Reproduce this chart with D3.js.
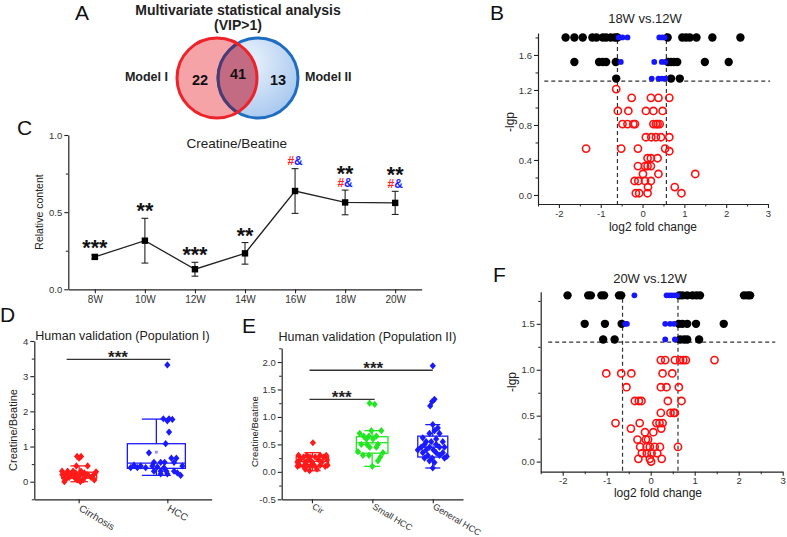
<!DOCTYPE html>
<html><head><meta charset="utf-8">
<script src="https://cdn.jsdelivr.net/npm/d3@7"></script>
<style>body{margin:0;background:#fff} svg{display:block}</style>
</head><body><svg id="c" width="787" height="537"></svg>
<script>
// ---------------- DATA ----------------
const vennNames = ["Model I", "Model II"];
const vennCounts = [22, 41, 13]; // only I, shared, only II

const weeks = ["8W","10W","12W","14W","16W","18W","20W"];
const creatineMean = [0.21, 0.315, 0.13, 0.233, 0.637, 0.563, 0.56];
const creatineErr  = [0.012, 0.145, 0.045, 0.07, 0.145, 0.08, 0.075];
const weekStars = ["***","**","***","**","","**","**"];
const weekHash  = [false,false,false,false,true,true,true];

// volcano rows: [ -lgp, [log2 fold change ...] ]
const bBlack = [
  [1.8,  [-1.84,-1.63,-1.43,-1.2,-1.1,-0.95,-0.87,-0.76,-0.66,-0.6,0.60,0.95,1.04,1.13,1.29,1.67,2.34]],
  [1.52, [-1.63,-1.04,-0.95,-0.87,-0.64,0.61,0.68,0.75,0.83,1.49,2.06]],
  [1.33, [-0.63,0.68,0.89]]
];
const bBlue = [
  [1.8,  [-0.57,-0.48,-0.36,0.40,0.47,0.53]],
  [1.52, [-0.52,0.28,0.46,0.54]],
  [1.33, [0.22,0.38,0.46,0.54]]
];
const bRed = [
  [1.21, [-0.63]],
  [1.11, [-0.26,0.20,0.38,0.64]],
  [0.96, [-0.59,-0.34,0.08,0.26,0.48]],
  [0.81, [-0.48,-0.36,-0.22,-0.18,0.26,0.32,0.36,0.41]],
  [0.66, [0.08,0.21,0.32,0.44,0.64]],
  [0.53, [-1.35,-0.51,-0.11,0.54]],
  [0.50, [0.64]],
  [0.42, [0.12,0.20,0.36]],
  [0.33, [-0.11,0.06,0.12,0.20]],
  [0.24, [0.01,0.38,1.26]],
  [0.16, [-0.19,-0.10,0.06,0.20]],
  [0.09, [0.13,0.77]],
  [0.02, [-0.16,-0.08,0.12,0.93]]
];
const fBlack = [
  [1.81, [-1.89,-1.42,-1.36,-1.12,-1.06,-0.72,-0.67,0.65,0.72,0.83,0.95,1.04,1.12,2.12,2.2,2.26]],
  [1.50, [-1.5,-1.04,-0.66,0.64,0.72,0.83,1.03,1.66]],
  [1.33, [-1.08,-0.82,0.67,0.76,0.83,1.10]]
];
const fBlue = [
  [1.81, [-0.37,0.36,0.42,0.48,0.54,0.6]],
  [1.50, [-0.58,-0.54,0.33,0.44,0.53]],
  [1.33, [0.33,0.55]]
];
const fRed = [
  [1.105,[0.23,0.33,0.55,0.67,0.74,0.80,1.45]],
  [0.96, [-1.01,-0.67,-0.44,0.27,0.49]],
  [0.81, [-0.55,0.23,0.36,0.64]],
  [0.66, [-0.36,-0.27,-0.21,0.39,0.70]],
  [0.53, [0.23,0.45,0.52,0.55]],
  [0.42, [-0.80,-0.25,0.13,0.20,0.27]],
  [0.36, [-0.45,0.24]],
  [0.32, [-0.13,0.06]],
  [0.24, [-0.30,-0.11,-0.06]],
  [0.16, [-0.24,-0.09,-0.02,0.09,0.21,0.62]],
  [0.09, [-0.2,-0.09,0.02,0.15]],
  [0.03, [-0.28,-0.02,0.25]],
  [0.0,  [0.01]]
];
const bThresh = [-0.6, 0.57, 1.30];
const fThresh = [-0.64, 0.62, 1.30];
const volcXTicks = [-2,-1,0,1,2,3];
const bYTicks = [0.0,0.4,0.8,1.2,1.6];
const fYTicks = [0.0,0.5,1.0,1.5];

// population I : [value, jitter (px offset)]
const popIGroups = ["Cirrhosis","HCC"];
const popICir = [[0.72,-1.6],[0.72,2.4],[0.67,0.4],[0.45,-2.3],[0.45,9],[0.3,-16.6],[0.3,-11],[0.3,-5.6],[0.3,2.4],[0.28,17.4],
  [0.25,-11.6],[0.25,-3],[0.25,5.7],[0.2,-16.3],[0.2,-13],[0.2,-7.6],[0.2,1.7],[0.2,9],[0.2,15],[0.12,-15],[0.12,-9.6],
  [0.12,-4.3],[0.12,-1],[0.12,5.7],[0.12,12.4],[0.05,-13.3],[0.05,-1.6],[0.05,4.4],[0.05,15.7],[0.0,-14.3],[0.0,1.7]];
const popIHCC = [[3.32,0],[1.79,-4],[1.79,1.7],[1.77,5],[1.73,0],[1.41,1.7],[1.08,-1.7],[0.82,-18.4],[0.67,4],[0.67,9],
  [0.55,-13.4],[0.55,-6.7],[0.55,-2.7],[0.55,6.7],[0.47,-33.4],[0.45,-26.7],[0.45,-15],[0.45,15],[0.4,-36.7],[0.4,-30],
  [0.4,-21.7],[0.42,-10],[0.4,-3.4],[0.3,-13.4],[0.3,-6.7],[0.3,-1],[0.3,6.7],[0.22,-6.7],[0.22,0],[0.25,10],[0.18,13.3]];
// box stats: [min, q1, median, q3, max, mean]
const popIBox = [[0.0,0.1,0.18,0.27,0.45,0.22],[0.18,0.38,0.53,1.08,1.78,0.84]];
const popIYTicks = [0,1,2,3,4];

const popIIGroups = ["Cir","Small HCC","General HCC"];
const popIICir = [[0.53,1],[0.3,-13.4],[0.3,-5],[0.3,8.3],[0.3,14.3],[0.27,-8.4],[0.27,-1.7],[0.27,3.3],[0.27,11.7],
  [0.22,-11.7],[0.22,-3.4],[0.22,6.6],[0.22,15],[0.18,-14.4],[0.18,-6.7],[0.18,0],[0.18,10],[0.12,-12.4],[0.12,-5],
  [0.12,2.3],[0.12,8.3],[0.12,15.6],[0.1,-14.4],[0.1,-8.4],[0.1,-1.7],[0.1,13.3],[0.05,-6.7],[0.05,5],[0.02,-2.4]];
const popIISmall = [[1.25,-2.7],[1.23,2.3],[0.75,-1],[0.75,9],[0.7,-12.7],[0.65,-8.7],[0.65,-3.4],[0.65,4],[0.6,-6],[0.6,0.6],
  [0.5,-11],[0.5,-5.4],[0.5,5.6],[0.45,-2.7],[0.45,4],[0.37,-14.4],[0.35,10.6],[0.3,-9.4],[0.3,-3.4],[0.27,8],[0.2,5.6],[0.1,0]];
const popIIGen = [[1.93,0],[1.32,1.7],[1.28,-0.6],[1.2,-2.6],[0.86,0],[0.8,5],[0.75,1.7],[0.7,-3.3],[0.7,6.7],[0.62,-10],
  [0.6,3.4],[0.55,-6.6],[0.55,-1.6],[0.55,10],[0.5,-8.3],[0.5,3.4],[0.45,-11.6],[0.45,-3.3],[0.45,6.7],[0.45,11.7],[0.4,-15],
  [0.4,-6.6],[0.4,0.7],[0.35,-10],[0.35,3.4],[0.35,10],[0.3,-5],[0.3,6.7],[0.28,14],[0.25,-8.3],[0.25,-0.6],[0.25,11.7],
  [0.2,-3.3],[0.17,1.7],[0.07,0]];
const popIIBox = [[0.02,0.1,0.19,0.28,0.35,0.19],[0.1,0.34,0.53,0.64,0.75,0.52],[0.07,0.27,0.45,0.65,0.86,0.5]];
const popIIYTicks = [-0.5,0.0,0.5,1.0,1.5,2.0];

// ---------------- DRAW ----------------
const FONT = '"Liberation Sans", Arial, Helvetica, sans-serif';
const svg = d3.select("#c").style("font-family", FONT);
const defs = svg.append("defs");

function txt(g, x, y, s, size, opts = {}) {
  const t = g.append("text").attr("x", x).attr("y", y).text(s)
    .style("font-size", size + "px").style("font-family", FONT)
    .attr("fill", opts.fill || "#222")
    .attr("text-anchor", opts.anchor || "middle");
  if (opts.bold) t.style("font-weight", "bold");
  if (opts.rotate) t.attr("transform", `rotate(${opts.rotate},${x},${y})`);
  return t;
}
const numFmt = d => (d < 0 ? "-" : "") + Math.abs(d);
const dec1 = d => (d < 0 ? "-" : "") + d3.format(".1f")(Math.abs(d));

function styleAxis(g, fs) {
  g.select(".domain").attr("stroke", "#222").attr("stroke-width", 1.2);
  g.selectAll(".tick line").attr("stroke", "#222").attr("stroke-width", 1.1);
  g.selectAll(".tick text").attr("fill", "#333").style("font-size", fs + "px").style("font-family", FONT);
}
function minorAxis(parent, axisFn, scale, vals, tx, ty) {
  const g = parent.append("g").attr("transform", `translate(${tx},${ty})`)
    .call(axisFn(scale).tickValues(vals).tickSize(2.5).tickFormat(""));
  g.select(".domain").remove();
  g.selectAll(".tick line").attr("stroke", "#222").attr("stroke-width", 1);
}

// Panel letters
[["A",75,20],["B",490,20],["C",17,135],["D",0,322],["E",242,333],["F",493,282]].forEach(([s,x,y]) =>
  txt(svg, x, y, s, 21, {anchor: "start", fill: "#111"}));

// ---- Panel A : Venn ----
(function() {
  const g = svg.append("g");
  const R = 40, cR = [217, 78], cB = [258, 78];
  const grad = defs.append("radialGradient").attr("id", "bg").attr("cx", "35%").attr("cy", "30%").attr("r", "75%");
  grad.append("stop").attr("offset", "0").attr("stop-color", "#eef5fd");
  grad.append("stop").attr("offset", "1").attr("stop-color", "#a8c8ef");
  defs.append("clipPath").attr("id", "clipR").append("circle").attr("cx", cR[0]).attr("cy", cR[1]).attr("r", R);
  g.append("circle").attr("cx", cR[0]).attr("cy", cR[1]).attr("r", R).attr("fill", "#f6a3a8");
  g.append("circle").attr("cx", cB[0]).attr("cy", cB[1]).attr("r", R).attr("fill", "url(#bg)");
  g.append("circle").attr("cx", cB[0]).attr("cy", cB[1]).attr("r", R).attr("fill", "#c46b84").attr("clip-path", "url(#clipR)");
  g.append("circle").attr("cx", cB[0]).attr("cy", cB[1]).attr("r", R).attr("fill", "none").attr("stroke", "#1f6dc2").attr("stroke-width", 3);
  g.append("circle").attr("cx", cB[0]).attr("cy", cB[1]).attr("r", R).attr("fill", "none").attr("stroke", "#4e3a6e").attr("stroke-width", 3).attr("clip-path", "url(#clipR)");
  g.append("circle").attr("cx", cR[0]).attr("cy", cR[1]).attr("r", R).attr("fill", "none").attr("stroke", "#ee2229").attr("stroke-width", 3);
  txt(g, 238, 15, "Multivariate statistical analysis", 14, {bold: true});
  txt(g, 238, 30, "(VIP>1)", 14, {bold: true});
  txt(g, 168, 81, vennNames[0], 12.5, {bold: true, anchor: "end"});
  txt(g, 305, 81, vennNames[1], 12.5, {bold: true, anchor: "start"});
  txt(g, 200, 85, vennCounts[0], 14.5, {bold: true, fill: "#111"});
  txt(g, 238, 79, vennCounts[1], 14.5, {bold: true, fill: "#111"});
  txt(g, 278, 84.5, vennCounts[2], 14.5, {bold: true, fill: "#111"});
})();

// ---- Volcano panels ----
function volcano(cfg) {
  const g = svg.append("g");
  const x = d3.scaleLinear().domain([-2.5, 3]).range([cfg.x0, cfg.x1]);
  const y = d3.scaleLinear().domain(cfg.yDom).range([cfg.yb, cfg.yt]);
  const gx = g.append("g").attr("transform", `translate(0,${cfg.yb})`)
    .call(d3.axisBottom(x).tickValues(volcXTicks).tickFormat(numFmt).tickSize(4).tickSizeOuter(0).tickPadding(2));
  styleAxis(gx, 9.5);
  minorAxis(g, d3.axisBottom, x, [-2.5,-1.5,-0.5,0.5,1.5,2.5], 0, cfg.yb);
  const gy = g.append("g").attr("transform", `translate(${cfg.x0},0)`)
    .call(d3.axisLeft(y).tickValues(cfg.yTicks).tickFormat(dec1).tickSize(4).tickSizeOuter(0).tickPadding(2));
  styleAxis(gy, 9.5);
  minorAxis(g, d3.axisLeft, y, cfg.yMinor, cfg.x0, 0);
  // thresholds
  const dash = "4,3";
  g.append("line").attr("x1", x(cfg.hx[0])).attr("x2", x(cfg.hx[1])).attr("y1", y(cfg.th[2])).attr("y2", y(cfg.th[2]))
    .attr("stroke", "#333").attr("stroke-width", 1.2).attr("stroke-dasharray", dash);
  [cfg.th[0], cfg.th[1]].forEach(v => g.append("line").attr("x1", x(v)).attr("x2", x(v))
    .attr("y1", cfg.yt).attr("y2", cfg.yb).attr("stroke", "#333").attr("stroke-width", 1.2).attr("stroke-dasharray", dash));
  const flat = rows => rows.flatMap(([p, xs]) => xs.map(v => [v, p]));
  g.append("g").selectAll("circle").data(flat(cfg.red)).join("circle")
    .attr("cx", d => x(d[0])).attr("cy", d => y(d[1])).attr("r", 3.6)
    .attr("fill", "none").attr("stroke", "#ff1010").attr("stroke-width", 1.6);
  g.append("g").selectAll("circle").data(flat(cfg.black)).join("circle")
    .attr("cx", d => x(d[0])).attr("cy", d => y(d[1])).attr("r", 4.2).attr("fill", "#000");
  g.append("g").selectAll("circle").data(flat(cfg.blue)).join("circle")
    .attr("cx", d => x(d[0])).attr("cy", d => y(d[1])).attr("r", 2.9).attr("fill", "#1515ff");
  txt(g, cfg.titleX, cfg.titleY, cfg.title, 13, {fill: "#222"});
  txt(g, cfg.xlX, cfg.xlY, "log2 fold change", 12, {fill: "#222"});
  txt(g, cfg.ylX, cfg.ylY, "-lgp", 12, {fill: "#222", rotate: -90});
}
volcano({x0: 538, x1: 768, yb: 204, yt: 33, yDom: [-0.103, 1.851], yTicks: bYTicks,
  yMinor: [0.2,0.6,1.0,1.4,1.8], th: bThresh, hx: [-2.35, 3.05],
  black: bBlack, blue: bBlue, red: bRed, title: "18W vs.12W", titleX: 645, titleY: 23,
  xlX: 653, xlY: 231, ylX: 514, ylY: 122});
volcano({x0: 540.7, x1: 782.7, yb: 471.7, yt: 291.7, yDom: [-0.11, 1.85], yTicks: fYTicks,
  yMinor: [0.25,0.75,1.25,1.75], th: fThresh, hx: [-2.33, 2.83],
  black: fBlack, blue: fBlue, red: fRed, title: "20W vs.12W", titleX: 650, titleY: 283,
  xlX: 658, xlY: 497, ylX: 516, ylY: 382});

// ---- Panel C ----
(function() {
  const g = svg.append("g");
  const x = d3.scalePoint().domain(weeks).range([68.3, 421.7]).padding(0.53);
  const y = d3.scaleLinear().domain([0, 1]).range([289.3, 135]);
  const gx = g.append("g").attr("transform", "translate(0,289.3)")
    .call(d3.axisBottom(x).tickSize(4).tickSizeOuter(0).tickPadding(3));
  styleAxis(gx, 10);
  const gy = g.append("g").attr("transform", "translate(68.3,0)")
    .call(d3.axisLeft(y).tickValues([0, 0.5, 1]).tickFormat(dec1).tickSize(4).tickSizeOuter(0).tickPadding(2));
  styleAxis(gy, 9.5);
  minorAxis(g, d3.axisLeft, y, [0.25, 0.75], 68.3, 0);
  const data = weeks.map((w, i) => ({w, m: creatineMean[i], e: creatineErr[i], s: weekStars[i], h: weekHash[i]}));
  // error bars
  data.forEach(d => {
    const cx = x(d.w), t = y(d.m + d.e), b = y(d.m - d.e);
    g.append("line").attr("x1", cx).attr("x2", cx).attr("y1", t).attr("y2", b).attr("stroke", "#222").attr("stroke-width", 1.1);
    [t, b].forEach(yy => g.append("line").attr("x1", cx - 3.4).attr("x2", cx + 3.4).attr("y1", yy).attr("y2", yy).attr("stroke", "#222").attr("stroke-width", 1.1));
  });
  g.append("path").datum(data).attr("d", d3.line().x(d => x(d.w)).y(d => y(d.m)))
    .attr("fill", "none").attr("stroke", "#222").attr("stroke-width", 1.3);
  g.selectAll("rect.pt").data(data).join("rect").attr("class", "pt")
    .attr("x", d => x(d.w) - 3.2).attr("y", d => y(d.m) - 3.2).attr("width", 6.4).attr("height", 6.4).attr("fill", "#000");
  data.forEach(d => {
    const top = y(d.m + d.e);
    if (d.h) {
      const t = g.append("text").attr("x", x(d.w)).attr("y", top - 3.2).attr("text-anchor", "middle")
        .style("font-size", "12px").style("font-weight", "bold").style("font-family", FONT);
      t.append("tspan").attr("fill", "#ff2020").text("#");
      t.append("tspan").attr("fill", "#1a1aff").text("&");
    }
    if (d.s) {
      const yy = d.h ? top - 9.5 : top;
      txt(g, x(d.w), yy, d.s, 21.5, {bold: true, fill: "#111"});
    }
  });
  txt(g, 236.7, 147.5, "Creatine/Beatine", 13.5, {fill: "#222"});
  txt(g, 42.7, 212, "Relative content", 10.5, {fill: "#222", rotate: -90});
})();

// ---- Box/scatter panels ----
const diamond = (cx, cy) => `M${cx},${cy - 3.6}L${cx + 3.1},${cy}L${cx},${cy + 3.6}L${cx - 3.1},${cy}Z`;
function boxPanel(cfg) {
  const g = svg.append("g");
  const x = d3.scalePoint().domain(cfg.groups).range([cfg.x0, cfg.x1]).padding(0.5);
  const y = d3.scaleLinear().domain(cfg.yDom).range([cfg.yb, cfg.yt]);
  const gx = g.append("g").attr("transform", `translate(0,${cfg.yb})`)
    .call(d3.axisBottom(x).tickSize(4).tickSizeOuter(0));
  styleAxis(gx, cfg.xfs);
  gx.selectAll(".tick text").attr("y", 0).attr("dy", 0).attr("text-anchor", "start")
    .attr("transform", `translate(-1,${cfg.xlOff}) rotate(31)`);
  const gy = g.append("g").attr("transform", `translate(${cfg.x0},0)`)
    .call(d3.axisLeft(y).tickValues(cfg.yTicks).tickFormat(cfg.yFmt).tickSize(4).tickSizeOuter(0).tickPadding(2));
  styleAxis(gy, 9.5);
  minorAxis(g, d3.axisLeft, y, cfg.yMinor, cfg.x0, 0);
  cfg.groups.forEach((grp, i) => {
    const c = x(grp), col = cfg.colors[i], [mn, q1, md, q3, mx, mean] = cfg.box[i];
    const [l, r] = cfg.boxX[i];
    const bx = c + l, bw = r - l, wc = c + (l + r) / 2;
    const bg = g.append("g").attr("stroke", col).attr("fill", "none").attr("stroke-width", 1.3);
    bg.append("rect").attr("x", bx).attr("y", y(q3)).attr("width", bw).attr("height", y(q1) - y(q3));
    bg.append("line").attr("x1", bx).attr("x2", bx + bw).attr("y1", y(md)).attr("y2", y(md));
    bg.append("line").attr("x1", wc).attr("x2", wc).attr("y1", y(q3)).attr("y2", y(mx));
    bg.append("line").attr("x1", wc).attr("x2", wc).attr("y1", y(q1)).attr("y2", y(mn));
    [mn, mx].forEach(v => bg.append("line").attr("x1", wc - bw * 0.25).attr("x2", wc + bw * 0.25).attr("y1", y(v)).attr("y2", y(v)));
    g.append("rect").attr("x", wc - 1.5).attr("y", y(mean) - 1.5).attr("width", 3).attr("height", 3).attr("fill", col).attr("opacity", 0.45);
    g.append("g").selectAll("path").data(cfg.points[i]).join("path")
      .attr("d", d => diamond(c + d[1], y(d[0]))).attr("fill", col);
  });
  cfg.sig.forEach(s => {
    const x1 = x(s.from) + s.o[0], x2 = x(s.to) + s.o[1], yy = y(s.level);
    g.append("line").attr("x1", x1).attr("x2", x2).attr("y1", yy).attr("y2", yy).attr("stroke", "#333").attr("stroke-width", 1.3);
    txt(g, s.tx, yy + 3.5, "***", 17, {bold: true, fill: "#222"});
  });
  txt(g, cfg.titleX, cfg.titleY, cfg.title, 12.5, {fill: "#222"});
  txt(g, cfg.ylX, cfg.ylY, "Creatine/Beatine", cfg.ylfs, {fill: "#222", rotate: -90});
}
boxPanel({groups: popIGroups, x0: 34.3, x1: 211.7, yb: 499.3, yt: 341, yDom: [-0.5, 4], yTicks: popIYTicks,
  yFmt: d => String(d), yMinor: [-0.5, 0.5, 1.5, 2.5, 3.5], xfs: 10, xlOff: 11,
  colors: ["#ff1a1a", "#1a1aff"], box: popIBox, boxX: [[-17, 18], [-40, 18]],
  points: [popICir, popIHCC],
  sig: [{from: "Cirrhosis", to: "HCC", o: [-12, 3], level: 3.48, tx: 118}],
  title: "Human validation (Population I)", titleX: 122.5, titleY: 339.5, ylX: 17, ylY: 430, ylfs: 11});
boxPanel({groups: popIIGroups, x0: 281.7, x1: 463, yb: 499.3, yt: 348.3, yDom: [-0.5, 2.25], yTicks: popIIYTicks,
  yFmt: dec1, yMinor: [-0.25, 0.25, 0.75, 1.25, 1.75, 2.25], xfs: 9, xlOff: 9,
  colors: ["#ff1a1a", "#22e622", "#1a1aff"], box: popIIBox, boxX: [[-15.7, 16.7], [-16, 15.6], [-15, 15]],
  points: [popIICir, popIISmall, popIIGen],
  sig: [{from: "Cir", to: "General HCC", o: [-2.4, 0], level: 1.85, tx: 373.3},
        {from: "Cir", to: "Small HCC", o: [-2.4, 2.3], level: 1.32, tx: 341.7}],
  title: "Human validation (Population II)", titleX: 367.5, titleY: 340.5, ylX: 258.5, ylY: 431.7, ylfs: 9.5});
</script>
</body></html>
